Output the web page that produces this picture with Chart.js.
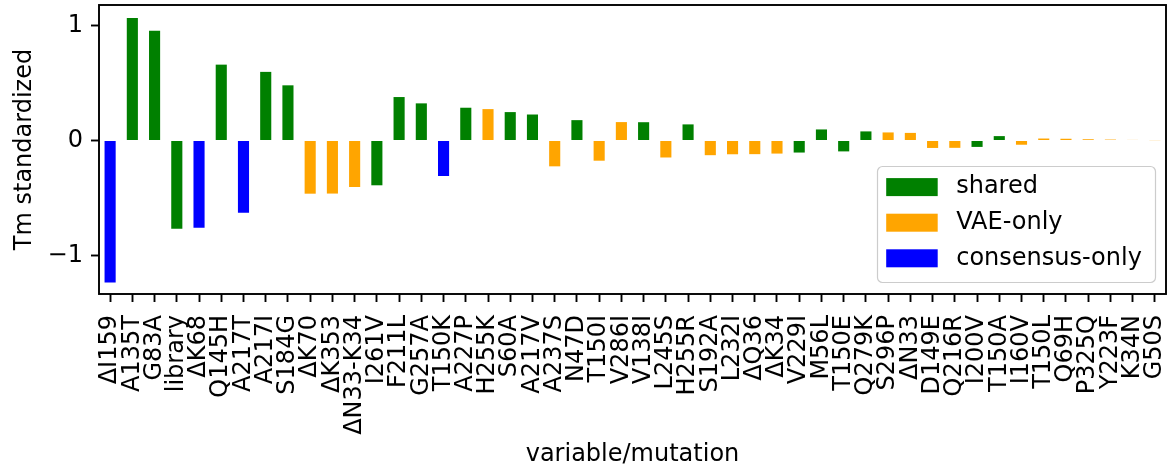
<!DOCTYPE html>
<html>
<head>
<meta charset="utf-8">
<script src="https://cdn.jsdelivr.net/npm/chart.js@4.4.0/dist/chart.umd.min.js"></script>
<style>
  body { margin: 0; background: #ffffff; }
  #chart { display: block; }
</style>
</head>
<body>
<canvas id="chart" width="1170" height="470"></canvas>
<script>
// mutations sorted by |Tm standardized|
const mutations = [
    'ΔI159', 'A135T', 'G83A', 'library', 'ΔK68', 'Q145H', 'A217T', 'A217I',
    'S184G', 'ΔK70', 'ΔK353', 'ΔN33-K34', 'I261V', 'F211L', 'G257A', 'T150K',
    'A227P', 'H255K', 'S60A', 'A217V', 'A237S', 'N47D', 'T150I', 'V286I',
    'V138I', 'L245S', 'H255R', 'S192A', 'L232I', 'ΔQ36', 'ΔK34', 'V229I',
    'M56L', 'T150E', 'Q279K', 'S296P', 'ΔN33', 'D149E', 'Q216R', 'I200V',
    'T150A', 'I160V', 'T150L', 'Q69H', 'P325Q', 'Y223F', 'K34N', 'G50S'
];

const tmValues = [
    -1.235, 1.065, 0.955, -0.769, -0.760, 0.660, -0.629, 0.597,
    0.480, -0.463, -0.462, -0.405, -0.390, 0.378, 0.323, -0.309,
    0.285, 0.273, 0.247, 0.226, -0.225, 0.177, -0.176, 0.160,
    0.159, -0.148, 0.140, -0.128, -0.120, -0.119, -0.114, -0.105,
    0.096, -0.095, 0.079, 0.070, 0.066, -0.065, -0.064, -0.056,
    0.038, -0.037, 0.017, 0.015, 0.011, 0.008, 0.005, 0.003
];

const groups = [
    'consensus-only', 'shared', 'shared', 'shared', 'consensus-only', 'shared', 'consensus-only', 'shared',
    'shared', 'VAE-only', 'VAE-only', 'VAE-only', 'shared', 'shared', 'shared', 'consensus-only',
    'shared', 'VAE-only', 'shared', 'shared', 'VAE-only', 'shared', 'VAE-only', 'VAE-only',
    'shared', 'VAE-only', 'shared', 'VAE-only', 'VAE-only', 'VAE-only', 'VAE-only', 'shared',
    'shared', 'shared', 'shared', 'VAE-only', 'VAE-only', 'VAE-only', 'VAE-only', 'shared',
    'shared', 'VAE-only', 'VAE-only', 'VAE-only', 'VAE-only', 'VAE-only', 'VAE-only', 'VAE-only'
];

const groupNames = ['shared', 'VAE-only', 'consensus-only'];
const groupColors = ['#008000', '#ffa500', '#0000ff'];

const yTicks = [-1, 0, 1];
const yMin = -1.336;
const yMax = 1.179;

Chart.defaults.font.family = "'DejaVu Sans', sans-serif";
Chart.defaults.font.size = 24;
Chart.defaults.color = '#000000';

// one dataset per group so the legend can be built from them
const datasets = groupNames.map((name, g) => ({
    label: name,
    data: tmValues.map((v, i) => groups[i] === name ? v : null),
    backgroundColor: groupColors[g],
    borderWidth: 0,
    barPercentage: 0.5,
    categoryPercentage: 1.0,
    grouped: false
}));

// axes frame + legend box (lower right, like matplotlib)
const frameLegend = {
    id: 'frameLegend',
    afterDraw(chart) {
        const ctx = chart.ctx;
        const a = chart.chartArea;
        ctx.save();
        ctx.strokeStyle = '#000000';
        ctx.lineWidth = 1.9;
        ctx.strokeRect(a.left, a.top, a.right - a.left, a.bottom - a.top);

        const w = 278, h = 116;
        const bx = a.right - 10.5 - w;
        const by = a.bottom - 11.5 - h;
        ctx.beginPath();
        ctx.roundRect(bx, by, w, h, 5);
        ctx.fillStyle = 'rgba(255,255,255,0.8)';
        ctx.fill();
        ctx.lineWidth = 1.2;
        ctx.strokeStyle = '#cccccc';
        ctx.stroke();

        ctx.font = "24px 'DejaVu Sans'";
        ctx.textBaseline = 'middle';
        ctx.textAlign = 'left';
        chart.data.datasets.forEach((ds, i) => {
            const cy = by + 20.6 + i * 35.6;
            ctx.fillStyle = ds.backgroundColor;
            ctx.fillRect(bx + 8.7, cy - 9, 51.5, 18);
            ctx.fillStyle = '#000000';
            ctx.fillText(ds.label, bx + 78.7, cy);
        });
        ctx.restore();
    }
};

const ctx = document.getElementById('chart').getContext('2d');

const chart = new Chart(ctx, {
    type: 'bar',
    data: {
        labels: mutations,
        datasets: datasets
    },
    options: {
        responsive: false,
        animation: false,
        layout: {
            padding: { top: 5, right: 4, left: 0, bottom: 0 }
        },
        plugins: {
            legend: { display: false },
            tooltip: { enabled: false }
        },
        scales: {
            x: {
                offset: true,
                grid: {
                    offset: false,
                    drawOnChartArea: false,
                    drawTicks: true,
                    tickLength: 8,
                    tickWidth: 1.9,
                    tickColor: '#000000'
                },
                border: { display: false },
                ticks: {
                    autoSkip: false,
                    minRotation: 90,
                    maxRotation: 90,
                    padding: 13,
                    font: { size: 24 }
                },
                title: {
                    display: true,
                    text: 'variable/mutation',
                    font: { size: 24 },
                    padding: { top: 0, bottom: 1 }
                },
                afterFit(scale) {
                    scale.height = 176;
                    scale.paddingLeft = 0;
                    scale.paddingRight = 0;
                }
            },
            y: {
                min: yMin,
                max: yMax,
                grid: {
                    drawOnChartArea: false,
                    drawTicks: true,
                    tickLength: 8,
                    tickWidth: 1.9,
                    tickColor: '#000000'
                },
                border: { display: false },
                afterBuildTicks(scale) {
                    scale.ticks = yTicks.map(v => ({ value: v }));
                },
                ticks: {
                    padding: 8,
                    font: { size: 24 },
                    callback: v => String(v).replace('-', '\u2212')
                },
                title: {
                    display: true,
                    text: 'Tm standardized',
                    font: { size: 24 },
                    padding: { top: 10, bottom: 0 }
                },
                afterFit(scale) {
                    scale.width = 99;
                    scale.paddingTop = 0;
                    scale.paddingBottom = 0;
                }
            }
        }
    },
    plugins: [frameLegend]
});
</script>
</body>
</html>
